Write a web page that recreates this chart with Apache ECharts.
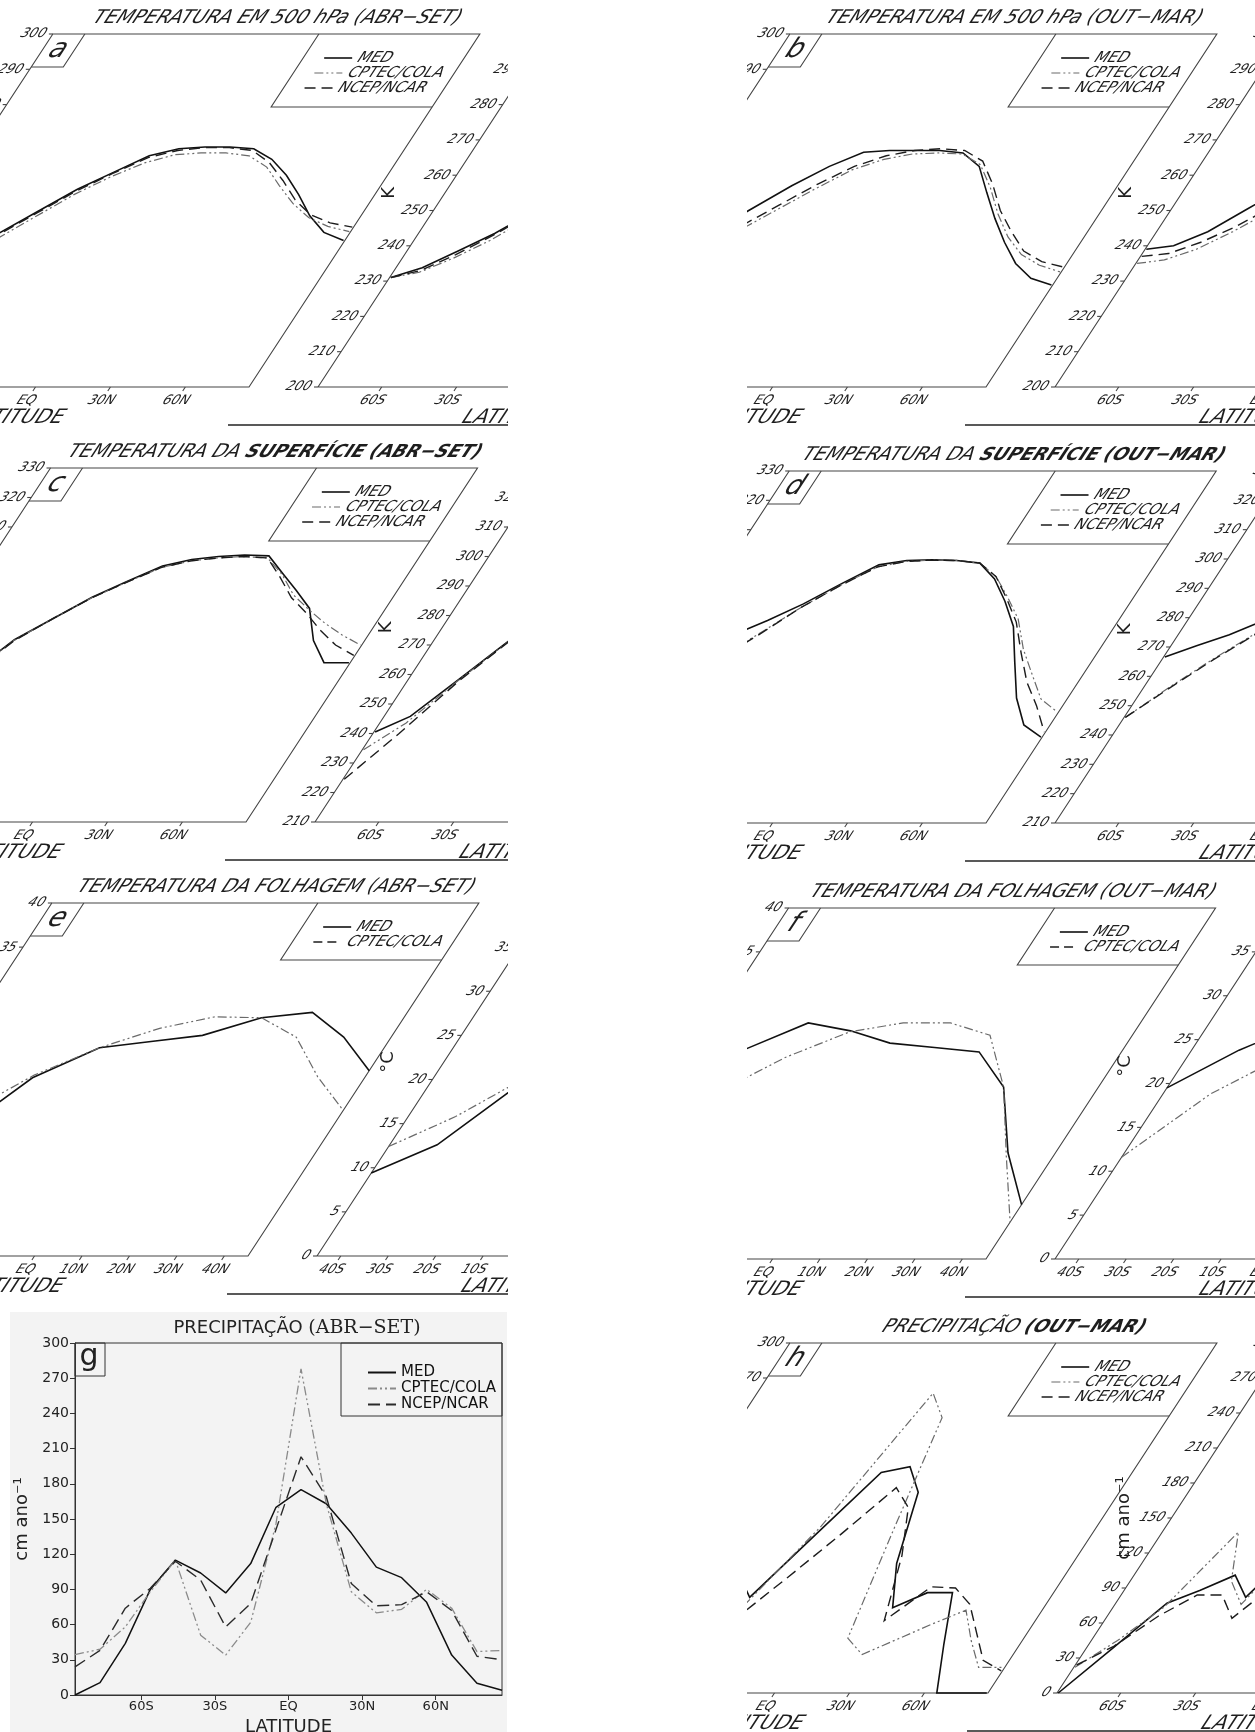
<!DOCTYPE html>
<html><head><meta charset="utf-8">
<script src="https://cdn.jsdelivr.net/npm/echarts@6.0.0/dist/echarts.min.js"></script>
<style>html,body{margin:0;padding:0;background:#fff}body{width:1255px;height:1732px;position:relative;overflow:hidden}</style>
</head><body>
<script>
// ---------- categories / ticks ----------
const LAT18 = [-85,-75,-65,-55,-45,-35,-25,-15,-5,5,15,25,35,45,55,65,75,85];
const LAT10 = [-45,-35,-25,-15,-5,5,15,25,35,45];
const LAT_G = [-87,-76.8,-66.5,-56.3,-46.1,-35.8,-25.6,-15.4,-5.1,5.1,15.4,25.6,35.8,46.1,56.3,66.5,76.8,87];
const XT_90 = [-60,-30,0,30,60];
const XL_90 = ['60S','30S','EQ','30N','60N'];
const XT_45 = [-40,-30,-20,-10,0,10,20,30,40];
const XL_45 = ['40S','30S','20S','10S','EQ','10N','20N','30N','40N'];
const YT_500 = [200,210,220,230,240,250,260,270,280,290,300];
const YT_SUP = [210,220,230,240,250,260,270,280,290,300,310,320,330];
const YT_FOL = [0,5,10,15,20,25,30,35,40];
const YT_PRE = [0,30,60,90,120,150,180,210,240,270,300];

// ---------- series values ----------
// (a) 500 hPa ABR-SET
const A_MED   = [231,233.8,238.5,243.5,249.8,256,260.8,265.5,267.5,268,268,267.5,264.5,260,254.5,248.5,243.8,241.5];
const A_CPTEC = [231,232.5,236.5,241.5,248,254.5,259.5,263.5,265.8,266.3,266.3,265.5,262.3,257,252,248,245.5,244];
const A_NCEP  = [231,233,237.5,243,249.3,255.5,260.5,265,267,267.8,267.8,267,263.5,258.5,253,248.8,246.5,245.3];
// (b) 500 hPa OUT-MAR
const B_MED   = [239,240,244,250.5,257,262.5,266.5,267,267,267,266.3,262.5,255,247.7,241,235,230.8,228.9];
const B_CPTEC = [235,236,239,244,250,256,261.5,264.5,266,266.3,266,263,256.5,249,242.5,237.5,234.5,232.6];
const B_NCEP  = [237,237.8,241,245.5,251.5,257.5,262.5,265.5,267,267.5,267,264,257.5,250,244,238.5,235.5,234];
// (c) superficie ABR-SET
const C_MED   = [240.5,245.8,258.7,271.8,279,286.2,291.6,296.8,299,300,300.5,300.2,294.3,288.5,282.4,271.5,264,264];
const C_CPTEC = [234.5,243.5,258.2,271.5,279,286,291.3,296.3,298.5,299.5,300,299.5,294,287,282,277.4,273.4,270];
const C_NCEP  = [224.5,240,257.5,271.3,279,286,291.3,296.3,298.5,299.5,300,299.5,293,286,280.8,275,270,266.5];
// (d) superficie OUT-MAR
const D_MED   = [266.6,270.5,274.2,279,284.7,291.6,298,299.5,299.7,299.5,298.6,293.2,285.6,277,264.7,252.6,243.4,239.3];
const D_CPTEC = [246,256.5,266,274.5,283.5,291,297.3,299.2,299.6,299.5,298.6,294,287,279.5,269.2,260.7,252.3,247.8];
const D_NCEP  = [246,256,265.5,274,283.5,291,297.3,299.2,299.6,299.5,298.6,294,286.5,278.5,268,258,250,241];
// (e) folhagem ABR-SET
const E_MED   = [9.4,12.6,20.2,23.6,24.3,25,27,27.6,24.8,21];
const E_CPTEC = [12.4,15.8,20.5,23.6,25.8,27.1,27,24.8,20.3,16.5];
// (f) folhagem OUT-MAR
const F_MED   = [19.5,23.8,26.9,26,24.6,24.1,23.6,19.6,12.1,6.2];
const F_CPTEC = [11.6,18.8,23,25.9,26.9,26.9,25.5,19.6,11.8,4.2];
// (g) precipitacao ABR-SET
const G_MED   = [0,10.5,44,90,115,104,87,112,160,175,163,138,109,100,79,34,10,4];
const G_CPTEC = [34.5,39,58,88,115,51,34,62,146,278,163,88,70,73,90,74,37,38];
const G_NCEP  = [24,38,74,91,114,98,58,78,141,203,169,95,76,77,88,72,33,30];
// (h) precipitacao OUT-MAR
const H_MED   = [0,38,77,88,101,82,136,189,194,172,111,73,86,86,42,0,0,0];
const H_CPTEC = [22,45,74,138,96,76,143,257,236,139,47,33,46,59,71,45,22,22];
const H_NCEP  = [24,40,66,84,84,64,99,136,176,159,118,62,91,90,76,52,28,19];

// ---------- layout ----------
const SHEAR = 0.654, PERIOD = 496;
const FONT = 'DejaVu Sans';
const STY = {
  MED:   {stroke:'#111', lineWidth:1.6},
  CPTEC: {stroke:'#6a6a6a', lineWidth:1.2, lineDash:[9,3,2,3,2,3]},
  NCEP:  {stroke:'#1c1c1c', lineWidth:1.4, lineDash:[11,6]},
  DASH:  {stroke:'#1c1c1c', lineWidth:1.3, lineDash:[9,5]}
};
const S3 = (m,c,n)=>[{key:'MED',name:'MED',data:m},{key:'CPTEC',name:'CPTEC/COLA',data:c},{key:'NCEP',name:'NCEP/NCAR',data:n}];
const S2 = (m,c)=>[{key:'MED',name:'MED',data:m},{key:'CPTEC',name:'CPTEC/COLA',data:c,legend:'DASH'}];

const PANELS = [
 {letter:'a', winL:0, winR:508, top:0, bottom:430, FL:318, yt:34, yb:387, xMin:-85.5, xMax:85.5, yMin:200, yMax:300, yTicks:YT_500, xTicks:XT_90, xLabels:XL_90, lat:LAT18, title:'{n|TEMPERATURA EM 500 hPa (ABR−SET)}', yName:'K', series:S3(A_MED,A_CPTEC,A_NCEP)},
 {letter:'b', winL:747, winR:1255, top:0, bottom:430, FL:1055, yt:34, yb:387, xMin:-85.5, xMax:85.5, yMin:200, yMax:300, yTicks:YT_500, xTicks:XT_90, xLabels:XL_90, lat:LAT18, title:'{n|TEMPERATURA EM 500 hPa (OUT−MAR)}', yName:'K', series:S3(B_MED,B_CPTEC,B_NCEP)},
 {letter:'c', winL:0, winR:508, top:430, bottom:865, FL:315, yt:468, yb:822, xMin:-85.5, xMax:85.5, yMin:210, yMax:330, yTicks:YT_SUP, xTicks:XT_90, xLabels:XL_90, lat:LAT18, title:'{n|TEMPERATURA DA }{b|SUPERFÍCIE (ABR−SET)}', yName:'K', series:S3(C_MED,C_CPTEC,C_NCEP)},
 {letter:'d', winL:747, winR:1255, top:430, bottom:865, FL:1055, yt:471, yb:823, xMin:-85.5, xMax:85.5, yMin:210, yMax:330, yTicks:YT_SUP, xTicks:XT_90, xLabels:XL_90, lat:LAT18, title:'{n|TEMPERATURA DA }{b|SUPERFÍCIE (OUT−MAR)}', yName:'K', series:S3(D_MED,D_CPTEC,D_NCEP)},
 {letter:'e', winL:0, winR:508, top:865, bottom:1300, FL:317, yt:903, yb:1256, xMin:-45, xMax:45, yMin:0, yMax:40, yTicks:YT_FOL, xTicks:XT_45, xLabels:XL_45, lat:LAT10, title:'{n|TEMPERATURA DA FOLHAGEM (ABR−SET)}', yName:'°C', series:S2(E_MED,E_CPTEC)},
 {letter:'f', winL:747, winR:1255, top:865, bottom:1302, FL:1055, yt:908, yb:1259, xMin:-45, xMax:45, yMin:0, yMax:40, yTicks:YT_FOL, xTicks:XT_45, xLabels:XL_45, lat:LAT10, title:'{n|TEMPERATURA DA FOLHAGEM (OUT−MAR)}', yName:'°C', series:S2(F_MED,F_CPTEC)},
 {letter:'h', winL:747, winR:1255, top:1302, bottom:1732, FL:1057, yt:1343, yb:1693, xMin:-85.5, xMax:85.5, yMin:0, yMax:300, yTicks:YT_PRE, xTicks:XT_90, xLabels:XL_90, lat:LAT18, title:'{n|PRECIPITAÇÃO }{b|(OUT−MAR)}', yName:'cm ano⁻¹', series:S3(H_MED,H_CPTEC,H_NCEP)}
];

function box(l,t,w,h){ const d=document.createElement('div'); d.style.cssText=`position:absolute;left:${l}px;top:${t}px;width:${w}px;height:${h}px`; document.body.appendChild(d); return d; }

function renderSheared(cfg, api){
  const kids = [];
  const o = api.coord([cfg.xMin, cfg.yMin]), t = api.coord([cfg.xMax, cfg.yMax]);
  const L=o[0], B=o[1], R=t[0], T=t[1];
  const sh = (x,y)=> x + SHEAR*(B - y);
  const KS=[-3,-2,-1,0,1,2,3];
  const line = (pts, style)=>{
    const sp = pts.map(p=>[sh(p[0],p[1]), p[1]]);
    KS.forEach(k=>kids.push({type:'polyline', silent:true, shape:{points: sp.map(q=>[q[0]+k*PERIOD, q[1]])},
      style:Object.assign({fill:'none', stroke:'#444', lineWidth:1.1}, style)}));
  };
  const text = (x,y,str,st,rot)=>{
    const X = sh(x,y);
    KS.forEach(k=>kids.push({type:'text', silent:true, x:X+k*PERIOD, y:y, rotation:rot||0,
      style:Object.assign({text:str, fill:'#1e1e1e', fontFamily:FONT, fontSize:13, align:'center', verticalAlign:'middle', textAlign:'center', textVerticalAlign:'middle'}, st)}));
  };
  line([[L,B],[R,B],[R,T],[L,T],[L,B]]);
  cfg.yTicks.forEach(v=>{ const y=api.coord([cfg.xMin, v])[1]; line([[L-4,y],[L,y]]); text(L-7, y, String(v), {align:'right', textAlign:'right'}); });
  cfg.xTicks.forEach((v,i)=>{ const x=api.coord([v, cfg.yMin])[0]; line([[x,B],[x,B+4]]); text(x, B+14, cfg.xLabels[i], {}); });
  text((L+R)/2, B+31, 'LATITUDE', {fontSize:20});
  const yNameX = cfg.yName.length>3 ? L-47 : L-56;
  const yNameY = cfg.yName.length>3 ? B-(B-T)*0.5 : B-(B-T)*0.55;
  text(yNameX, yNameY, cfg.yName, {fontSize:18}, Math.PI/2);
  text((L+R)/2, T-16, cfg.title, {fontSize:19, rich:{n:{fontSize:19, fontFamily:FONT, fill:'#1e1e1e'}, b:{fontSize:18, fontFamily:FONT, fontWeight:'bold', fill:'#1e1e1e'}}});
  line([[L,T+33],[L+32,T+33],[L+32,T]]);
  text(L+16, T+16, cfg.letter, {fontSize:27});
  const lh = cfg.series.length===3 ? 73 : 57;
  line([[R-161,T],[R-161,T+lh],[R,T+lh]]);
  cfg.series.forEach((s,i)=>{ const y=T+24+15*i; line([[L+287,y],[L+315,y]], STY[s.legend||s.key]); text(L+321, y, s.name, {align:'left', textAlign:'left', fontSize:15}); });
  cfg.series.forEach(s=>{ const pts = cfg.lat.map((la,i)=>api.coord([la, s.data[i]])); line(pts, STY[s.key]); });
  kids.push({type:'line', silent:true, shape:{x1:L-90, y1:B+38, x2:L+1200, y2:B+38}, style:{stroke:'#222', lineWidth:1.5}});
  return {type:'group', children:kids};
}

function shearedPanel(cfg){
  const W = cfg.winR-cfg.winL, H = cfg.bottom-cfg.top;
  const div = box(cfg.winL, cfg.top, W, H);
  const chart = echarts.init(div, null, {renderer:'canvas'});
  chart.setOption({
    animation:false,
    grid:{left:cfg.FL-cfg.winL, top:cfg.yt-cfg.top, width:427, height:cfg.yb-cfg.yt, outerBoundsMode:'none', containLabel:false},
    xAxis:{type:'value', min:cfg.xMin, max:cfg.xMax, show:false},
    yAxis:{type:'value', min:cfg.yMin, max:cfg.yMax, show:false},
    series:[{type:'custom', clip:false, silent:true, data:[[cfg.xMin, cfg.yMin]], renderItem:(p,api)=>renderSheared(cfg, api)}]
  });
  try {
    const ang = -Math.atan(SHEAR);
    const zr = chart.getZr();
    const visit = el=>{ if (el.type==='text' && !el.rotation){ el.skewX = ang; el.markRedraw && el.markRedraw(); } if (el.isGroup) el.eachChild(visit); };
    zr.storage.getRoots().forEach(visit);
    zr.refreshImmediately ? zr.refreshImmediately() : zr.refresh();
  } catch(e) {}
}
PANELS.forEach(shearedPanel);

// ---------- panel g (normal chart) ----------
(function(){
  const div = box(10, 1312, 497, 420);
  div.style.background = '#f3f3f3';
  const ch = echarts.init(div, null, {renderer:'canvas'});
  const fmt = v => v<0 ? (-v)+'S' : (v>0 ? v+'N' : 'EQ');
  ch.setOption({
    animation:false,
    textStyle:{fontFamily:FONT},
    grid:{left:65, top:31, width:427, height:352, show:true, borderColor:'#333', borderWidth:1, outerBoundsMode:'none', containLabel:false},
    xAxis:{type:'value', min:-87, max:87, splitLine:{show:false},
      axisLine:{onZero:false, lineStyle:{color:'#333'}},
      axisTick:{customValues:XT_90, length:5, lineStyle:{color:'#333'}},
      axisLabel:{customValues:XT_90, formatter:fmt, fontSize:13, color:'#222', margin:5},
      name:'LATITUDE', nameLocation:'middle', nameGap:21, nameTextStyle:{fontSize:18, color:'#222'}},
    yAxis:{type:'value', min:0, max:300, interval:30, splitLine:{show:false},
      axisLine:{show:true, onZero:false, lineStyle:{color:'#333'}},
      axisTick:{show:true, length:5, lineStyle:{color:'#333'}},
      axisLabel:{fontSize:14, color:'#222', margin:6},
      name:'cm ano⁻¹', nameLocation:'middle', nameGap:38, nameRotate:90, nameTextStyle:{fontSize:18, color:'#222'}},
    legend:{orient:'vertical', left:352, top:48, itemWidth:28, itemHeight:14, itemGap:1, itemStyle:{opacity:0},
      textStyle:{fontSize:15, color:'#111'}, data:['MED','CPTEC/COLA','NCEP/NCAR']},
    graphic:[
      {type:'rect', shape:{x:331, y:31, width:161, height:73}, style:{fill:'none', stroke:'#333', lineWidth:1}, silent:true},
      {type:'rect', shape:{x:65, y:31, width:30, height:33}, style:{fill:'none', stroke:'#333', lineWidth:1}, silent:true},
      {type:'text', x:79, y:45, style:{text:'g', fontSize:30, fontFamily:FONT, fill:'#222', align:'center', verticalAlign:'middle', textAlign:'center', textVerticalAlign:'middle'}, silent:true},
      {type:'text', x:287, y:16, style:{text:'{a|PRECIPITAÇÃO }{b|(ABR−SET)}', align:'center', verticalAlign:'middle', textAlign:'center', textVerticalAlign:'middle',
        rich:{a:{fontSize:18, fontFamily:FONT, fill:'#222'}, b:{fontSize:19, fontFamily:'DejaVu Serif', fill:'#222'}}}, silent:true}
    ],
    series:[
      {name:'MED', type:'line', symbol:'none', data:LAT_G.map((la,i)=>[la,G_MED[i]]), lineStyle:{color:'#111', width:1.5}, itemStyle:{color:'#111'}},
      {name:'CPTEC/COLA', type:'line', symbol:'none', data:LAT_G.map((la,i)=>[la,G_CPTEC[i]]), lineStyle:{color:'#8a8a8a', width:1.3, type:[9,3,2,3,2,3]}, itemStyle:{color:'#8a8a8a'}},
      {name:'NCEP/NCAR', type:'line', symbol:'none', data:LAT_G.map((la,i)=>[la,G_NCEP[i]]), lineStyle:{color:'#2a2a2a', width:1.4, type:[12,6]}, itemStyle:{color:'#2a2a2a'}}
    ]
  });
})();
</script>
</body></html>
